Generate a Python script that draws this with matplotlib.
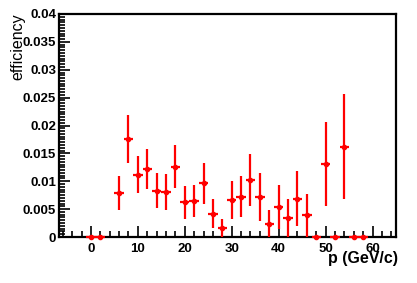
import numpy as np
import matplotlib
matplotlib.use("Agg")
import matplotlib.pyplot as plt
from matplotlib.ticker import MultipleLocator

# bin centres (GeV/c) and efficiency with errors
p = [0, 2, 6, 8, 10, 12, 14, 16, 18, 20, 22, 24, 26, 28, 30, 32, 34, 36, 38,
     40, 42, 44, 46, 48, 50, 52, 54, 56, 58]
eff = [0, 0, 0.0079, 0.0175, 0.0112, 0.0122, 0.0083, 0.0081, 0.0126, 0.0062,
       0.0065, 0.0096, 0.0042, 0.0016, 0.0066, 0.0072, 0.0102, 0.0071, 0.0024,
       0.0054, 0.0034, 0.0069, 0.0039, 0, 0.0131, 0, 0.0162, 0, 0]
err = [0, 0, 0.0031, 0.0043, 0.0033, 0.0036, 0.0031, 0.0032, 0.0039, 0.0029,
       0.0029, 0.0037, 0.0026, 0.0016, 0.0034, 0.0037, 0.0047, 0.0043, 0.0024,
       0.0039, 0.0034, 0.0050, 0.0039, 0, 0.0076, 0, 0.0094, 0, 0]
xerr = 1.0
yticks = [0, 0.005, 0.01, 0.015, 0.02, 0.025, 0.03, 0.035, 0.04]
ylabels = ['0', '0.005', '0.01', '0.015', '0.02', '0.025', '0.03', '0.035', '0.04']

plt.rcParams['font.family'] = ['Liberation Sans', 'DejaVu Sans']

fig = plt.figure(figsize=(4.17, 2.83), dpi=100)
ax = fig.add_axes([59/417, 1 - 237/283, (396 - 59)/417, (237 - 14)/283])

ax.errorbar(p, eff, yerr=err, xerr=xerr, fmt='o', color='red', ms=3,
            elinewidth=1.6, capsize=0, clip_on=False, zorder=3)

ax.set_xlim(-6.8, 65)
ax.set_ylim(0, 0.04)

ax.xaxis.set_major_locator(MultipleLocator(10))
ax.xaxis.set_minor_locator(MultipleLocator(2))
ax.yaxis.set_minor_locator(MultipleLocator(0.0005))
ax.set_yticks(yticks)
ax.set_yticklabels(ylabels)

ax.tick_params(which='both', direction='in', top=False, right=False, width=1.2)
ax.tick_params(which='major', length=8, labelsize=9.5)
ax.tick_params(axis='y', which='major', pad=2)
ax.tick_params(axis='x', which='major', pad=4)
ax.tick_params(which='minor', length=4)
for lab in ax.get_xticklabels() + ax.get_yticklabels():
    lab.set_fontweight('bold')
for s in ax.spines.values():
    s.set_linewidth(1.6)

fig.text(363/417, 1 - 259/283, 'p (GeV/c)', fontsize=11.5, fontweight='bold',
         ha='center', va='center')
fig.text(18/417, 1 - 47/283, 'efficiency', fontsize=11.5, rotation=90,
         ha='center', va='center')

plt.savefig("out.png", dpi=100)
